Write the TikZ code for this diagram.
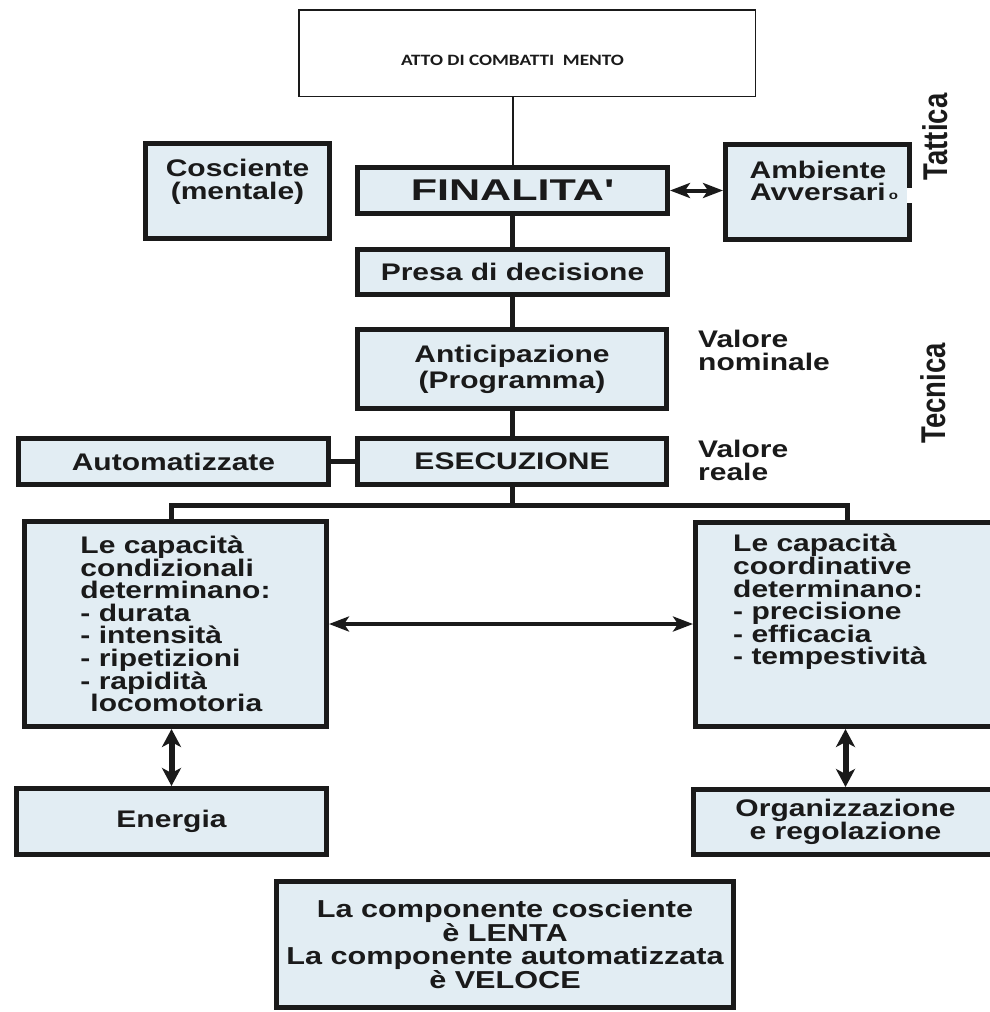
\documentclass[tikz,border=0pt]{standalone}
\usepackage{fontspec}
\usepackage{graphicx}
\setmainfont{Liberation Sans}[FakeStretch=1.25, Ligatures=TeXOff]
\newfontfamily\plainsans{Liberation Sans}
\newfontfamily\attofont{Carlito}[FakeStretch=1.22]
\usetikzlibrary{arrows.meta}
\definecolor{boxfill}{HTML}{E2EDF3}
\definecolor{ink}{HTML}{1A1A1A}
\tikzset{
  blk/.style={draw=ink, line width=5pt, fill=boxfill, inner sep=0pt, text=ink, align=center, font=\bfseries\fontsize{24}{22.6}\selectfont},
  lbl/.style={inner sep=0pt, text=ink, font=\bfseries\fontsize{24}{22.6}\selectfont},
  conn/.style={draw=ink, line width=5pt},
  thinconn/.style={draw=ink, line width=2pt},
  harrow/.style={draw=ink, line width=4pt, {Stealth[length=20pt,width=15pt,inset=5pt]}-{Stealth[length=20pt,width=15pt,inset=5pt]}},
  varrow/.style={draw=ink, line width=6pt, {Stealth[length=18pt,width=19pt,inset=5pt]}-{Stealth[length=18pt,width=19pt,inset=5pt]}},
  vert/.style={inner sep=0pt, text=ink, font=\plainsans\bfseries\fontsize{27.5}{30}\selectfont}
}
\begin{document}
\begin{tikzpicture}[x=1pt,y=-1pt]
\useasboundingbox (0,0) rectangle (989,1012);
\fill[white] (0,0) rectangle (989,1012);
% top box
\node[draw=ink, line width=1.5pt, fill=white, minimum width=456.5pt, minimum height=86.5pt, inner sep=0pt] (atto) at (527,53) {};
\node[inner sep=0pt, text=ink, font=\attofont\bfseries\fontsize{15.8}{18}\selectfont] (attoT) at (512.5,60) {ATTO DI COMBATTI\ \ MENTO};
% left top
\node[blk, minimum width=184pt, minimum height=95pt] (cos) at (237.5,191) {};
\node[lbl, align=center, font=\bfseries\fontsize{24}{22.5}\selectfont] (cosT) at (237.5,182) {Cosciente\\(mentale)};
% central column
\node[blk, minimum width=310pt, minimum height=46pt] (fin) at (512.5,190.5) {\fontsize{30}{30}\selectfont\scalebox{1.15}[1]{FINALITA'}};
\node[blk, minimum width=310pt, minimum height=45pt] (pres) at (512.5,272) {Presa di decisione};
\node[blk, minimum width=309pt, minimum height=79pt, font=\bfseries\fontsize{24}{26}\selectfont] (ant) at (512,369) {Anticipazione\\(Programma)};
\node[blk, minimum width=310pt, minimum height=46pt] (auto) at (173.5,461.5) {Automatizzate};
\node[blk, minimum width=309pt, minimum height=46pt] (ese) at (512,461.5) {ESECUZIONE};
% right top
\node[blk, minimum width=184pt, minimum height=95pt] (amb) at (817.5,192) {};
\draw[draw=white, line width=6pt] ([xshift=-2.5pt,yshift=4pt]amb.east) -- ([xshift=-2.5pt,yshift=-11pt]amb.east);
\node[lbl, align=center, font=\bfseries\fontsize{24}{22.5}\selectfont] (ambT) at (818,181) {Ambiente\\Avversari};
\node[lbl, font=\bfseries\fontsize{12}{12}\selectfont] (ambO) at (893.5,196) {o};
% side labels
\node[vert] (tat) at (935,137) {\scalebox{1.25}[1]{\rotatebox{90}{Tattica}}};
\node[vert] (tec) at (933.5,393.5) {\scalebox{1.25}[1]{\rotatebox{90}{Tecnica}}};
\node[lbl, align=left, anchor=north west] (valN) at (698,330) {Valore\\nominale};
\node[lbl, align=left, anchor=north west] (valR) at (698,440) {Valore\\reale};
% big boxes
\node[blk, align=left, minimum width=302pt, minimum height=205pt] (lbig) at (175.5,624) {Le capacità\\condizionali\\determinano:\\- durata\\- intensità\\- ripetizioni\\- rapidità\\\hspace*{10pt}locomotoria};
\node[blk, minimum width=302pt, minimum height=204pt] (rbig) at (846.5,624.5) {};
\node[lbl, align=left, anchor=north west] (rbigT) at (733,534) {Le capacità\\coordinative\\determinano:\\- precisione\\- efficacia\\- tempestività};
\node[blk, minimum width=310pt, minimum height=66pt] (ene) at (171.5,821.5) {Energia};
\node[blk, minimum width=304pt, minimum height=65pt] (org) at (845.5,822) {Organizzazione\\e regolazione};
\node[blk, minimum width=457pt, minimum height=126pt, font=\bfseries\fontsize{24.5}{23}\selectfont] (bot) at (505,944.5) {La componente cosciente\\è LENTA\\La componente automatizzata\\è VELOCE};
% connectors
\draw[thinconn] (fin.north) -- (fin.north |- atto.south);
\draw[conn] (fin.south) -- (pres.north);
\draw[conn] (pres.south) -- (pres.south |- ant.north);
\draw[conn] (ant.south) -- (ant.south |- ese.north);
\draw[conn] (auto.east) -- (auto.east -| ese.west);
\coordinate (busL) at (171,505.5);
\coordinate (busR) at (847,505.5);
\draw[conn] (ese.south) -- (ese.south |- busL);
\draw[conn, line join=miter] (busL |- lbig.north) -- (busL) -- (busR) -- (busR |- rbig.north);
\draw[harrow] (fin.east) -- (fin.east -| amb.west);
\draw[harrow] (lbig.east) -- (lbig.east -| rbig.west);
\draw[varrow] (lbig.south -| ene.north) -- (ene.north);
\draw[varrow] (rbig.south -| org.north) -- (org.north);
\end{tikzpicture}
\end{document}
